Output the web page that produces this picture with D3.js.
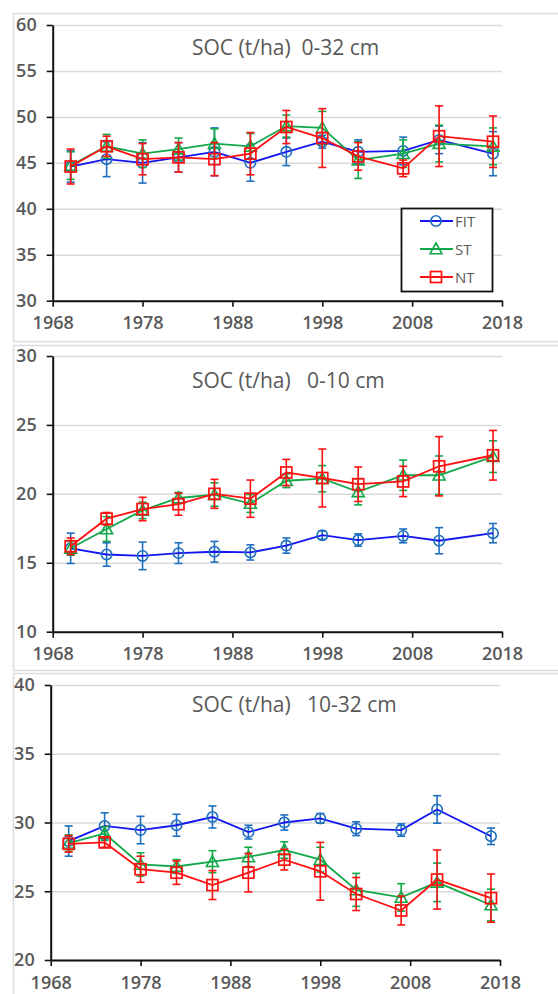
<!DOCTYPE html>
<html>
<head>
<meta charset="utf-8">
<script src="https://cdn.jsdelivr.net/npm/d3@7"></script>
<style>
    body { margin: 0; background: #fff; }
    svg { display: block; }
</style>
</head>
<body>
<div id="chart"></div>
<script>
// sampling years
const years = [1970, 1974, 1978, 1982, 1986, 1990, 1994, 1998, 2002, 2007, 2011, 2017]
const xTicks = [1968, 1978, 1988, 1998, 2008, 2018]
const seriesNames = ['FIT', 'ST', 'NT']

// 0-32 cm
const fit032 = [44.6, 45.4, 45.0, 45.6, 46.2, 45.0, 46.2, 47.3, 46.2, 46.3, 47.5, 46.0]
const fit032Err = [1.7, 1.9, 2.2, 1.6, 2.6, 2.0, 1.5, 0.7, 1.3, 1.5, 1.5, 2.4]
const st032 = [44.7, 46.8, 46.0, 46.5, 47.1, 46.8, 49.0, 48.8, 45.3, 46.0, 47.1, 46.8]
const st032Err = [1.5, 1.3, 1.5, 1.2, 1.6, 1.4, 1.2, 1.8, 2.0, 1.5, 2.0, 2.0]
const nt032 = [44.6, 46.8, 45.4, 45.6, 45.4, 46.0, 48.9, 47.7, 45.7, 44.4, 47.9, 47.3]
const nt032Err = [1.9, 1.1, 1.7, 1.6, 1.8, 2.3, 1.8, 3.2, 1.5, 0.9, 3.3, 2.8]

// 0-10 cm
const fit010 = [16.05, 15.6, 15.5, 15.7, 15.8, 15.75, 16.25, 17.0, 16.65, 16.95, 16.6, 17.15]
const fit010Err = [1.1, 0.85, 1.0, 0.75, 0.75, 0.55, 0.55, 0.3, 0.45, 0.5, 0.95, 0.7]
const st010 = [16.05, 17.45, 18.8, 19.7, 19.95, 19.3, 20.95, 21.1, 20.15, 21.35, 21.35, 22.7]
const st010Err = [0.5, 0.9, 0.6, 0.4, 0.85, 0.65, 0.5, 0.95, 0.95, 1.1, 1.4, 1.15]
const nt010 = [16.2, 18.2, 18.9, 19.25, 20.0, 19.65, 21.55, 21.15, 20.7, 20.9, 22.0, 22.8]
const nt010Err = [0.6, 0.45, 0.85, 0.8, 1.05, 1.35, 0.95, 2.1, 1.25, 1.1, 2.15, 1.8]

// 10-32 cm
const fit1032 = [28.65, 29.75, 29.45, 29.8, 30.4, 29.3, 30.0, 30.3, 29.55, 29.45, 30.95, 29.0]
const fit1032Err = [1.1, 0.95, 1.0, 0.8, 0.8, 0.5, 0.55, 0.35, 0.5, 0.45, 1.0, 0.6]
const st1032 = [28.5, 29.2, 26.95, 26.8, 27.15, 27.5, 28.0, 27.3, 25.1, 24.55, 25.65, 24.0]
const st1032Err = [0.6, 0.5, 0.85, 0.5, 0.8, 0.7, 0.6, 0.9, 1.2, 1.0, 1.4, 1.15]
const nt1032 = [28.45, 28.55, 26.6, 26.35, 25.45, 26.35, 27.3, 26.45, 24.8, 23.6, 25.85, 24.5]
const nt1032Err = [0.6, 0.35, 0.95, 0.85, 1.05, 1.4, 0.75, 2.1, 1.2, 1.05, 2.15, 1.75]

const width = 558, height = 994
const font = '"Open Sans", "Noto Sans", sans-serif'
const colors = {
    FIT: { line: '#1414f0', mark: '#1f6fc0' },
    ST: { line: '#12a84a', mark: '#12a84a' },
    NT: { line: '#ff1010', mark: '#ff1010' }
}

const panels = [
    { title: 'SOC (t/ha)  0-32 cm', titleY: 55, top: 13, bottom: 341, y0: 25, y1: 300.7, x0: 52.7, x1: 502,
      domain: [30, 60], yTicks: [30, 35, 40, 45, 50, 55, 60],
      series: [[fit032, fit032Err], [st032, st032Err], [nt032, nt032Err]], legend: true },
    { title: 'SOC (t/ha)   0-10 cm', titleY: 388, top: 345, bottom: 670, y0: 356, y1: 631.7, x0: 52.7, x1: 502,
      domain: [10, 30], yTicks: [10, 15, 20, 25, 30],
      series: [[fit010, fit010Err], [st010, st010Err], [nt010, nt010Err]], legend: false },
    { title: 'SOC (t/ha)   10-32 cm', titleY: 712, top: 673, bottom: 1010, y0: 685, y1: 960, x0: 50.7, x1: 500,
      domain: [20, 40], yTicks: [20, 25, 30, 35, 40],
      series: [[fit1032, fit1032Err], [st1032, st1032Err], [nt1032, nt1032Err]], legend: false }
]

const svg = d3.select('#chart').append('svg')
              .attr('width', width)
              .attr('height', height)
              .style('background', '#ffffff')

function drawMarker (g, name, x, y, color) {
    if (name === 'FIT') {
        g.append('circle').attr('cx', x).attr('cy', y).attr('r', 5.2)
         .attr('fill', 'none').attr('stroke', color).attr('stroke-width', 1.6)
    } else if (name === 'ST') {
        const s = 6
        g.append('path')
         .attr('d', `M${x},${y - s}L${x + s},${y + s * 0.8}L${x - s},${y + s * 0.8}Z`)
         .attr('fill', 'none').attr('stroke', color).attr('stroke-width', 1.6)
    } else {
        g.append('rect').attr('x', x - 5.5).attr('y', y - 5.5).attr('width', 11).attr('height', 11)
         .attr('fill', 'none').attr('stroke', color).attr('stroke-width', 1.7)
    }
}

panels.forEach(p => {
    const xScale = d3.scaleLinear().domain([1968, 2018]).range([p.x0, p.x1])
    const yScale = d3.scaleLinear().domain(p.domain).range([p.y1, p.y0])

    // panel frame
    svg.append('rect')
       .attr('x', 13.5).attr('y', p.top + 0.5)
       .attr('width', 560).attr('height', p.bottom - p.top)
       .attr('fill', 'none').attr('stroke', '#dcdcdc').attr('stroke-width', 1.5)

    const g = svg.append('g')

    // grid lines
    g.append('g')
     .attr('transform', `translate(${p.x0}, 0)`)
     .call(d3.axisLeft(yScale).tickValues(p.yTicks).tickSize(-(p.x1 - p.x0)).tickFormat(''))
     .call(a => a.select('.domain').remove())
     .selectAll('line').attr('stroke', '#d9d9d9').attr('stroke-width', 1.5)

    // y axis
    const yAxis = g.append('g')
     .attr('transform', `translate(${p.x0}, 0)`)
     .call(d3.axisLeft(yScale).tickValues(p.yTicks).tickSize(6).tickSizeOuter(0).tickPadding(10))
    yAxis.select('.domain').attr('stroke', '#111').attr('stroke-width', 2)
    yAxis.selectAll('.tick line').attr('stroke', '#111').attr('stroke-width', 1.6)
    yAxis.selectAll('text')
         .style('font-family', font).style('font-size', '18px').style('font-weight', '600')
         .attr('fill', '#595959')

    // x axis
    const xAxis = g.append('g')
     .attr('transform', `translate(0, ${p.y1})`)
     .call(d3.axisBottom(xScale).tickValues(xTicks).tickFormat(d3.format('d')).tickSize(6).tickSizeOuter(0).tickPadding(10))
    xAxis.select('.domain').attr('stroke', '#111').attr('stroke-width', 2)
    xAxis.selectAll('.tick line').attr('stroke', '#111').attr('stroke-width', 1.6)
    xAxis.selectAll('text')
         .style('font-family', font).style('font-size', '18px').style('font-weight', '600')
         .attr('fill', '#595959')

    // title
    g.append('text')
     .text(p.title)
     .attr('x', 192).attr('y', p.titleY)
     .style('font-family', font).style('font-size', '21px')
     .attr('fill', '#595959')
     .style('white-space', 'pre')

    // series: error bars, lines, markers
    p.series.forEach(([vals, errs], si) => {
        const name = seriesNames[si]
        const c = colors[name]
        const pts = years.map((yr, i) => ({ x: xScale(yr), y: yScale(vals[i]), lo: yScale(vals[i] - errs[i]), hi: yScale(vals[i] + errs[i]) }))

        const eb = g.append('g').attr('stroke', c.mark).attr('stroke-width', 1.6)
        pts.forEach(d => {
            eb.append('line').attr('x1', d.x).attr('x2', d.x).attr('y1', d.lo).attr('y2', d.hi)
            eb.append('line').attr('x1', d.x - 4).attr('x2', d.x + 4).attr('y1', d.lo).attr('y2', d.lo)
            eb.append('line').attr('x1', d.x - 4).attr('x2', d.x + 4).attr('y1', d.hi).attr('y2', d.hi)
        })

        g.append('path')
         .datum(pts)
         .attr('d', d3.line().x(d => d.x).y(d => d.y))
         .attr('fill', 'none').attr('stroke', c.line).attr('stroke-width', 1.8)

        const mk = g.append('g')
        pts.forEach(d => drawMarker(mk, name, d.x, d.y, c.mark))
    })

    // legend
    if (p.legend) {
        const lg = g.append('g')
        lg.append('rect')
          .attr('x', 401.5).attr('y', 208.5).attr('width', 91).attr('height', 83)
          .attr('fill', '#fff').attr('stroke', '#111').attr('stroke-width', 1.8)
        seriesNames.forEach((name, i) => {
            const cy = 221 + i * 28
            lg.append('line').attr('x1', 420).attr('x2', 453).attr('y1', cy).attr('y2', cy)
              .attr('stroke', colors[name].line).attr('stroke-width', 1.8)
            drawMarker(lg, name, 436, cy, colors[name].mark)
            lg.append('text').text(name)
              .attr('x', 455).attr('y', cy + 6)
              .style('font-family', font).style('font-size', '15px')
              .attr('fill', '#595959')
        })
    }
})
</script>
</body>
</html>
